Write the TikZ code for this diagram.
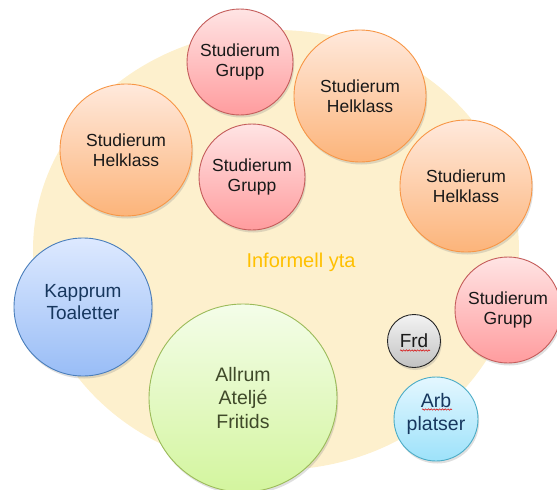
\documentclass[tikz,border=0pt]{standalone}
\usepackage{fontspec}
\setmainfont{Liberation Sans}
\usetikzlibrary{shapes.geometric,shadows,decorations.pathmorphing}

\definecolor{ytafill}{HTML}{FDF0CD}
\definecolor{ytatext}{HTML}{FFC000}
\definecolor{grupptop}{HTML}{FFE4E4}
\definecolor{gruppbot}{HTML}{FF9C9E}
\definecolor{gruppdraw}{HTML}{C45C5A}
\definecolor{heltop}{HTML}{FFE9DC}
\definecolor{helbot}{HTML}{FCB47A}
\definecolor{heldraw}{HTML}{F79646}
\definecolor{kapptop}{HTML}{DDE9FF}
\definecolor{kappbot}{HTML}{99BDF6}
\definecolor{kappdraw}{HTML}{4A7EBB}
\definecolor{kapptext}{HTML}{17375E}
\definecolor{alltop}{HTML}{F4FDE9}
\definecolor{allbot}{HTML}{D3F59E}
\definecolor{alldraw}{HTML}{9BBB59}
\definecolor{alltext}{HTML}{404A2A}
\definecolor{frdtop}{HTML}{F3F3F3}
\definecolor{frdbot}{HTML}{C2C2C2}
\definecolor{arbtop}{HTML}{E4F7FF}
\definecolor{arbbot}{HTML}{9DE2FA}
\definecolor{arbdraw}{HTML}{4BACC6}

\tikzset{
  rum/.style={circle, inner sep=0pt, align=center, line width=0.9pt,
    drop shadow={opacity=0.25, shadow xshift=1.2pt, shadow yshift=-2.5pt}},
  grupp/.style={rum, minimum size=106pt, draw=gruppdraw, top color=grupptop,
    bottom color=gruppbot, text=black!90, font=\fontsize{17.5}{20.5}\selectfont},
  helklass/.style={rum, minimum size=132pt, draw=heldraw, top color=heltop,
    bottom color=helbot, text=black!90, font=\fontsize{17.5}{20.5}\selectfont},
  stava/.style={draw=red!85!black, line width=0.5pt, decorate,
    decoration={snake, amplitude=0.7pt, segment length=2.8pt}}
}

\begin{document}
\begin{tikzpicture}[x=1pt,y=-1pt]
\useasboundingbox (0,0) rectangle (557,490);
\node[ellipse, fill=ytafill, minimum width=486pt, minimum height=440pt] (YTA) at (276,250) {};
\node[text=ytatext, font=\fontsize{20}{24}\selectfont] (INFORMELL) at (301,262) {Informell yta};
\node[grupp] (GRUPP1) at (240,62) {Studierum\\Grupp};
\node[helklass] (HEL1) at (360,96) {Studierum\\Helklass};
\node[helklass] (HEL2) at (126,150) {Studierum\\Helklass};
\node[grupp] (GRUPP2) at (252,177) {Studierum\\Grupp};
\node[helklass] (HEL3) at (466,186) {Studierum\\Helklass};
\node[grupp] (GRUPP3) at (508,310) {Studierum\\Grupp};
\node[rum, minimum size=138pt, draw=kappdraw, top color=kapptop, bottom color=kappbot,
  label={[text=kapptext, align=center, yshift=5pt, font=\fontsize{19}{22}\selectfont]center:Kapprum\\Toaletter}]
  (KAPPRUM) at (83,307) {};
\node[rum, minimum size=188pt, draw=alldraw, top color=alltop, bottom color=allbot,
  text=alltext, font=\fontsize{19.5}{23.5}\selectfont] (ALLRUM) at (243,398) {Allrum\\Atelj\'e\\Fritids};
\node[rum, minimum size=53pt, draw=black!85, top color=frdtop, bottom color=frdbot,
  text=black!90, font=\fontsize{19}{22}\selectfont] (FRD) at (414,341) {Frd};
\node[rum, minimum size=84pt, draw=arbdraw, top color=arbtop, bottom color=arbbot,
  label={[text=kapptext, align=center, yshift=5pt, font=\fontsize{19.5}{23}\selectfont]center:Arb\\platser}]
  (ARB) at (436,419) {};
\draw[stava] ([shift={(-14,9.5)}]FRD.center) -- ([shift={(16,9.5)}]FRD.center);
\draw[stava] ([shift={(-14,-9.5)}]ARB.center) -- ([shift={(16,-9.5)}]ARB.center);
\end{tikzpicture}
\end{document}
